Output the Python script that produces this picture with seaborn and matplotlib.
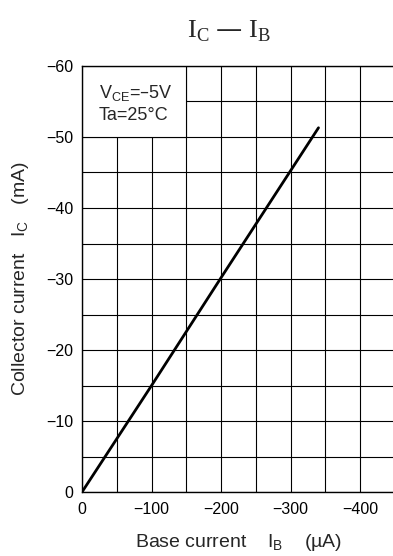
import matplotlib
matplotlib.use("Agg")
import matplotlib.pyplot as plt
from matplotlib.patches import Rectangle
from matplotlib.ticker import MultipleLocator
import seaborn as sns
import pandas as pd

# Base current (uA) and collector current (mA) along the transfer curve
ib_ua = [0, -100, -200, -340]
ic_ma = [0, -15.0, -30.2, -51.3]

x_ticks = [0, -100, -200, -300, -400]
y_ticks = [0, -10, -20, -30, -40, -50, -60]

sns.set_style("white")
plt.rcParams["font.family"] = ["Liberation Sans", "DejaVu Sans"]

fig = plt.figure(figsize=(3.93, 5.56), dpi=100)
ax = fig.add_axes([0.2087, 0.1151, 0.7964, 0.7662])

df = pd.DataFrame({"ib": ib_ua, "ic": ic_ma})
sns.lineplot(data=df, x="ib", y="ic", color="black", linewidth=2.0, ax=ax, zorder=3)

ax.set_xlim(0, -450)
ax.set_ylim(0, -60)
ax.set_xticks(x_ticks)
ax.set_yticks(y_ticks)
ax.xaxis.set_minor_locator(MultipleLocator(50))
ax.yaxis.set_minor_locator(MultipleLocator(5))
ax.grid(which="both", color="black", linewidth=0.8)
ax.set_axisbelow(True)
ax.tick_params(which="both", length=0, labelsize=11.5, colors="black")
ax.tick_params(axis="x", pad=7)
ax.tick_params(axis="y", pad=6)

for s in ax.spines.values():
    s.set_color("black")
    s.set_linewidth(1.0)

# Condition box in the upper-left corner, masking the grid beneath it
ax.add_patch(Rectangle((0, -50), -150, -10, facecolor="white",
                       edgecolor="black", linewidth=0.8, zorder=1))
ax.text(-24, -55.5, "V$_\\mathregular{CE}$=–5V", fontsize=13, va="baseline", ha="left", zorder=4)
ax.text(-24, -52.4, "Ta=25°C", fontsize=13, va="baseline", ha="left", zorder=4)

ax.set_xlabel("Base current    I$_\\mathregular{B}$    (µA)", fontsize=14, labelpad=11)
ax.set_ylabel("Collector current   I$_\\mathregular{C}$   (mA)", fontsize=14, labelpad=11)

fig.text(0.583, 0.933, "I$_\\mathregular{C}$ — I$_\\mathregular{B}$", fontsize=19,
         family="Liberation Serif", ha="center", va="baseline")

fig.savefig("out.png", dpi=100)
